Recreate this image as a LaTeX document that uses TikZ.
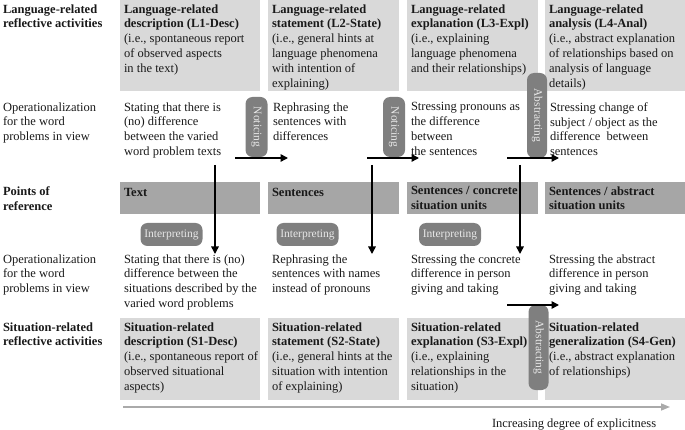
\documentclass[tikz,border=0pt]{standalone}
\usepackage{fontspec}
\setmainfont{Liberation Serif}
\usetikzlibrary{arrows.meta}
\definecolor{lightbox}{RGB}{217,217,217}
\definecolor{midbox}{RGB}{166,166,166}
\definecolor{pillfill}{RGB}{127,127,127}
\definecolor{pilltext}{RGB}{232,232,232}
\definecolor{axisgray}{RGB}{170,170,170}
\definecolor{inkc}{RGB}{25,25,25}
\newcommand{\mainfs}{\fontsize{12.5}{14.8}\selectfont}
\newcommand{\pillfs}{\fontsize{11.5}{13}\selectfont}
\begin{document}
\begin{tikzpicture}[x=1pt,y=-1pt,
  lbox/.style={fill=lightbox, draw=none, anchor=north west, inner sep=0, outer sep=0},
  mbox/.style={fill=midbox, draw=none, anchor=north west, inner sep=0, outer sep=0, minimum height=32},
  txt/.style={anchor=north west, inner sep=0, outer sep=0, align=left, font=\mainfs, text=inkc,
    execute at begin node={\rule{0pt}{10pt}}},
  pill/.style={fill=pillfill, draw=none, rounded corners=7pt, text=pilltext, font=\pillfs, inner sep=0},
  vpill/.style={pill, rotate=-90},
  blackarrow/.style={-{Triangle[length=7.5pt,width=7.5pt]}, line width=1.5pt},
  grayarrow/.style={-{Triangle[length=9pt,width=7pt]}, line width=1.5pt, draw=axisgray}
]
\useasboundingbox (0,0) rectangle (685,430);

% ---------- boxes ----------
\node[lbox, minimum width=140, minimum height=91] (L1box) at (120,0) {};
\node[lbox, minimum width=131, minimum height=91] (L2box) at (268,0) {};
\node[lbox, minimum width=131, minimum height=91] (L3box) at (407,0) {};
\node[lbox, minimum width=140, minimum height=91] (L4box) at (545,0) {};

\node[mbox, minimum width=140] (P1box) at (120,182) {};
\node[mbox, minimum width=131] (P2box) at (268,182) {};
\node[mbox, minimum width=131] (P3box) at (407,182) {};
\node[mbox, minimum width=140] (P4box) at (545,182) {};

\node[lbox, minimum width=140, minimum height=82] (S1box) at (120,318) {};
\node[lbox, minimum width=131, minimum height=82] (S2box) at (268,318) {};
\node[lbox, minimum width=131, minimum height=82] (S3box) at (407,318) {};
\node[lbox, minimum width=140, minimum height=82] (S4box) at (545,318) {};

% ---------- left labels ----------
\node[txt] (lab1) at (3,4.5) {\textbf{Language-related}\\\textbf{reflective activities}};
\node[txt] (lab2) at (3,102.5) {Operationalization\\for the word\\problems in view};
\node[txt] (lab3) at (3,186.5) {\textbf{Points of}\\\textbf{reference}};
\node[txt] (lab4) at (3,254.5) {Operationalization\\for the word\\problems in view};
\node[txt] (lab5) at (3,322.5) {\textbf{Situation-related}\\\textbf{reflective activities}};

% ---------- top row ----------
\node[txt] (L1) at (124,4.5) {\textbf{Language-related}\\\textbf{description (L1-Desc)}\\(i.e., spontaneous report\\of observed aspects\\in the text)};
\node[txt] (L2) at (272,4.5) {\textbf{Language-related}\\\textbf{statement (L2-State)}\\(i.e., general hints at\\language phenomena\\with intention of\\explaining)};
\node[txt] (L3) at (411,4.5) {\textbf{Language-related}\\\textbf{explanation (L3-Expl)}\\(i.e., explaining\\language phenomena\\and their relationships)};
\node[txt] (L4) at (549,4.5) {\textbf{Language-related}\\\textbf{analysis (L4-Anal)}\\(i.e., abstract explanation\\of relationships based on\\analysis of language\\details)};

% ---------- operationalization (language) ----------
\node[txt] (O1) at (124,102.5) {Stating that there is\\(no) difference\\between the varied\\word problem texts};
\node[txt] (O2) at (273,102.5) {Rephrasing the\\sentences with\\differences};
\node[txt] (O3) at (411,102.5) {Stressing pronouns as\\the difference\\between\\the sentences};
\node[txt] (O4) at (550,102.5) {Stressing change of\\subject / object as the\\difference\ \ between\\sentences};

% ---------- points of reference ----------
\node[txt] (P1) at (124,186.5) {\textbf{Text}};
\node[txt] (P2) at (272,186.5) {\textbf{Sentences}};
\node[txt] (P3) at (411,186.5) {\textbf{Sentences / concrete}\\\textbf{situation units}};
\node[txt] (P4) at (549,186.5) {\textbf{Sentences / abstract}\\\textbf{situation units}};

% ---------- operationalization (situation) ----------
\node[txt] (Q1) at (124,254.5) {Stating that there is (no)\\difference between the\\situations described by the\\varied word problems};
\node[txt] (Q2) at (272,254.5) {Rephrasing the\\sentences with names\\instead of pronouns};
\node[txt] (Q3) at (411,254.5) {Stressing the concrete\\difference in person\\giving and taking};
\node[txt] (Q4) at (549,254.5) {Stressing the abstract\\difference in person\\giving and taking};

% ---------- bottom row ----------
\node[txt] (S1) at (124,322.5) {\textbf{Situation-related}\\\textbf{description (S1-Desc)}\\(i.e., spontaneous report of\\observed situational\\aspects)};
\node[txt] (S2) at (272,322.5) {\textbf{Situation-related}\\\textbf{statement (S2-State)}\\(i.e., general hints at the\\situation with intention\\of explaining)};
\node[txt] (S3) at (411,322.5) {\textbf{Situation-related}\\\textbf{explanation (S3-Expl)}\\(i.e., explaining\\relationships in the\\situation)};
\node[txt] (S4) at (549,322.5) {\textbf{Situation-related}\\\textbf{generalization (S4-Gen)}\\(i.e., abstract explanation\\of relationships)};

% ---------- pills ----------
\node[vpill, minimum width=60, minimum height=22] (N1) at (256.5,127) {Noticing};
\node[vpill, minimum width=60, minimum height=22] (N2) at (394,127) {Noticing};
\node[vpill, minimum width=85, minimum height=20] (A1) at (537,115.5) {Abstracting};
\node[vpill, minimum width=85, minimum height=20] (A2) at (538.5,347.5) {Abstracting};
\node[pill, minimum width=62, minimum height=23] (I1) at (171.5,234.5) {Interpreting};
\node[pill, minimum width=62, minimum height=23] (I2) at (307.5,234.5) {Interpreting};
\node[pill, minimum width=62, minimum height=23] (I3) at (450,234.5) {Interpreting};

% ---------- arrow end points ----------
\coordinate (h1s) at (235,158); \coordinate (h1e) at (288,158);
\coordinate (h2s) at (367,158); \coordinate (h2e) at (419,158);
\coordinate (h3s) at (507,158); \coordinate (h3e) at (559,158);
\coordinate (h4s) at (507,305); \coordinate (h4e) at (559,305);
\coordinate (v1s) at (215,165); \coordinate (v1e) at (215,254);
\coordinate (v2s) at (372,165); \coordinate (v2e) at (372,254);
\coordinate (v3s) at (520,165); \coordinate (v3e) at (520,254);
\coordinate (gs) at (123,407);  \coordinate (ge) at (670,407);

\draw[blackarrow] (h1s) -- (h1e);
\draw[blackarrow] (h2s) -- (h2e);
\draw[blackarrow] (h3s) -- (h3e);
\draw[blackarrow] (h4s) -- (h4e);
\draw[blackarrow] (v1s) -- (v1e);
\draw[blackarrow] (v2s) -- (v2e);
\draw[blackarrow] (v3s) -- (v3e);
\draw[grayarrow] (gs) -- (ge);

\node[txt] (axislabel) at (492,417) {Increasing degree of explicitness};
\end{tikzpicture}
\end{document}
